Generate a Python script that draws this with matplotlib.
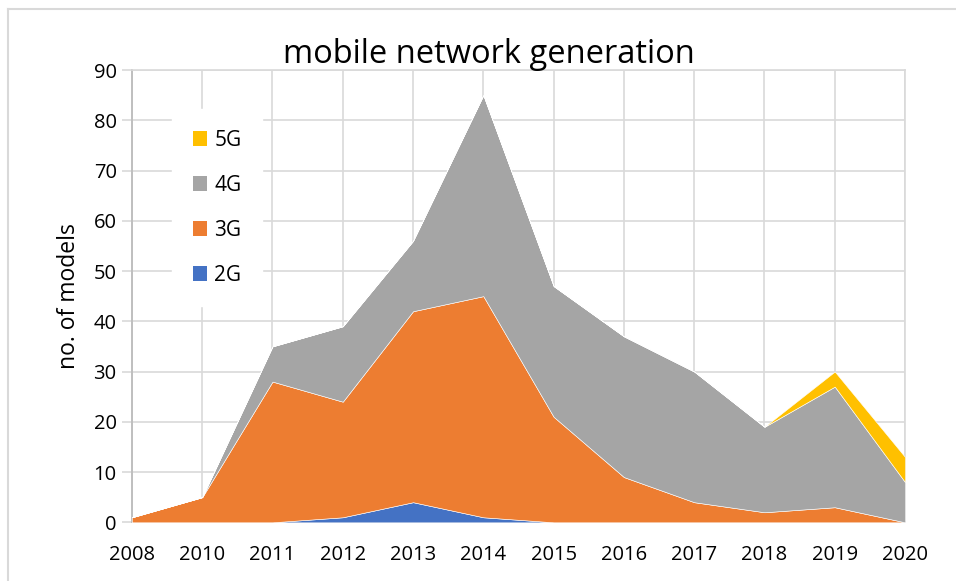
import numpy as np
import matplotlib.pyplot as plt
from matplotlib.patches import Patch

plt.rcParams['font.family'] = ['Open Sans', 'DejaVu Sans']

years = ['2008', '2010', '2011', '2012', '2013', '2014',
         '2015', '2016', '2017', '2018', '2019', '2020']
g2 = [0, 0, 0, 1, 4, 1, 0, 0, 0, 0, 0, 0]
g3 = [1, 5, 28, 23, 38, 44, 21, 9, 4, 2, 3, 0]
g4 = [0, 0, 7, 15, 14, 40, 26, 28, 26, 17, 24, 8]
g5 = [0, 0, 0, 0, 0, 0, 0, 0, 0, 0, 3, 5]

labels = ['2G', '3G', '4G', '5G']
colors = ['#4472C4', '#ED7D31', '#A5A5A5', '#FFC000']

fig = plt.figure(figsize=(9.56, 5.81), dpi=100)
ax = fig.add_axes([0.138, 0.101, 0.8087, 0.7785])

x = np.arange(len(years))
ax.stackplot(x, g2, g3, g4, g5, colors=colors, edgecolor='white',
             linewidth=0.4, zorder=3)

ax.set_xlim(0, len(years) - 1)
ax.set_ylim(0, 90)
ax.set_xticks(x)
ax.set_xticklabels(years)
ax.set_yticks(np.arange(0, 91, 10))
ax.tick_params(axis='x', length=0, labelsize=14.5, pad=16)
ax.tick_params(axis='y', length=7, color='#D9D9D9', width=1.2, labelsize=14.5, pad=4)
ax.grid(True, color='#D9D9D9', linewidth=1.2, zorder=0)
ax.set_axisbelow(True)
for side in ['top', 'right']:
    ax.spines[side].set_color('#D9D9D9')
    ax.spines[side].set_linewidth(1.2)
for side in ['left', 'bottom']:
    ax.spines[side].set_color('#BFBFBF')
    ax.spines[side].set_linewidth(1.4)

ax.set_ylabel('no. of models', fontsize=16.5, labelpad=9)
fig.text(0.511, 0.907, 'mobile network generation', ha='center', va='center',
         fontsize=23.5)

handles = [Patch(facecolor=c, label=l) for c, l in zip(colors, labels)][::-1]
leg = ax.legend(handles=handles, loc='upper left', bbox_to_anchor=(0.038, 0.937),
                frameon=True, fontsize=15, handlelength=0.7, handleheight=0.7,
                handletextpad=0.35, labelspacing=1.15, borderpad=1.0)
leg.get_frame().set_facecolor('white')
leg.get_frame().set_edgecolor('white')
leg.get_frame().set_alpha(1)
leg.set_zorder(5)

# chart frame
fig.add_artist(plt.Line2D([0.0085, 1.0], [0.984, 0.984], color='#D9D9D9', lw=1.5))
fig.add_artist(plt.Line2D([0.0085, 0.0085], [0.0, 0.984], color='#D9D9D9', lw=1.5))

fig.savefig('out.png', dpi=100)
